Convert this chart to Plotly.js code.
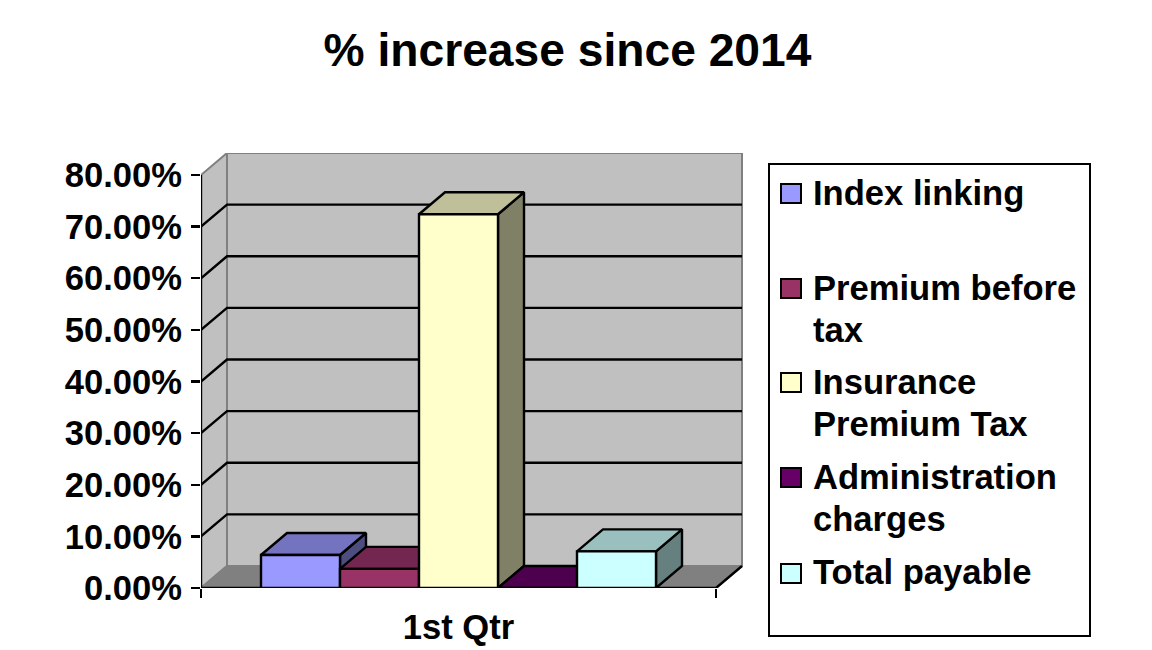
<!DOCTYPE html>
<html>
<head>
<meta charset="utf-8">
<script src="https://cdn.plot.ly/plotly-3.0.1.min.js"></script>
<style>html,body{margin:0;padding:0;background:#fff}#chart{width:1152px;height:650px}</style>
</head>
<body>
<div id="chart"></div>
<script>
// ---- data ----
const titleText = "% increase since 2014";
const category = "1st Qtr";
const seriesNames = ["Index linking", "Premium before tax", "Insurance Premium Tax", "Administration charges", "Total payable"];
const legendLines = [["Index linking"], ["Premium before", "tax"], ["Insurance", "Premium Tax"], ["Administration", "charges"], ["Total payable"]];
const seriesValues = [6.4, 3.7, 72.4, 0, 7.1];
const yTicks = [0, 10, 20, 30, 40, 50, 60, 70, 80];
const yTickLabels = ["0.00%", "10.00%", "20.00%", "30.00%", "40.00%", "50.00%", "60.00%", "70.00%", "80.00%"];
const frontColors = ["#9999ff", "#993366", "#ffffcc", "#660066", "#ccffff"];
const topColors = ["#7373bf", "#732650", "#bfbf99", "#4d004d", "#99bfbf"];
const sideColors = ["#4d4d80", "#4d1a33", "#808066", "#330033", "#668080"];

// ---- geometry ----
const L = 201, R = 743, T = 153, B = 588;        // plot area in pixels
const pxPerCat = 515, pxPerPct = 413 / 80;
const xMax = (R - L) / pxPerCat, yMax = (B - T) / pxPerPct;
const dx = 26 / pxPerCat, dy = 22 / pxPerPct;    // oblique depth in axis units
const barGap = 0.233;
const barW = (1 - barGap) / seriesValues.length;
const font = { family: "Liberation Sans, Arial, sans-serif", size: 34.6, color: "#000", weight: 700 };
const px = x => (x - L) / (R - L), py = y => (B - y) / (B - T);

function poly(xs, ys, fill, lineColor, width) {
  return { type: "scatter", mode: "lines", x: xs, y: ys, xaxis: "x", yaxis: "y",
    fill: fill ? "toself" : "none", fillcolor: fill || undefined,
    line: { color: lineColor, width: width === undefined ? 2.4 : width },
    showlegend: false, hoverinfo: "skip", cliponaxis: false };
}

const traces = [];
// walls and floor
traces.push(poly([dx, 1 + dx, 1 + dx, dx, dx], [dy, dy, 80 + dy, 80 + dy, dy], "#c0c0c0", "#808080", 2));
traces.push(poly([0, dx, dx, 0, 0], [0, dy, 80 + dy, 80, 0], "#c0c0c0", "#808080", 2));
traces.push(poly([0, 1, 1 + dx, dx, 0], [0, 0, dy, dy, 0], "#808080", "#808080", 2));
// gridlines
yTicks.filter(v => v > 0 && v < 80).forEach(v => {
  traces.push(poly([0, dx, 1 + dx], [v, v + dy, v + dy], null, "#000"));
});
// front axis lines
traces.push(poly([0, 0], [0, 80], null, "#000"));
traces.push(poly([0, 1, 1 + dx], [0, 0, dy], null, "#000"));
// side and top faces, left to right
seriesValues.forEach((v, i) => {
  const x0 = 0.5 - (1 - barGap) / 2 + i * barW, x1 = x0 + barW;
  traces.push(poly([x1, x1 + dx, x1 + dx, x1, x1], [0, dy, v + dy, v, 0], sideColors[i], "#000"));
  traces.push(poly([x0, x1, x1 + dx, x0 + dx, x0], [v, v, v + dy, v + dy, v], topColors[i], "#000"));
});
// front faces: real grouped bars on the overlay axes
seriesValues.forEach((v, i) => {
  traces.push({ type: "bar", name: seriesNames[i], x: [0.5], y: [v], xaxis: "x2", yaxis: "y2",
    marker: { color: frontColors[i], line: { color: "#000", width: 2.4 } },
    showlegend: false, cliponaxis: false, hoverinfo: "skip" });
});

// legend
const swatchTop = [184, 279, 373, 468, 564];
const lineCenters = [[193], [288, 330], [382, 424], [477, 519], [572]];
const shapes = [{ type: "rect", xref: "paper", yref: "paper", x0: px(769), x1: px(1090), y0: py(164), y1: py(636),
  line: { color: "#000", width: 2 }, fillcolor: "#fff", layer: "above" }];
const annotations = [];
seriesNames.forEach((n, i) => {
  shapes.push({ type: "rect", xref: "paper", yref: "paper", x0: px(781), x1: px(801), y0: py(swatchTop[i]), y1: py(swatchTop[i] + 19),
    line: { color: "#000", width: 2 }, fillcolor: frontColors[i], layer: "above" });
  legendLines[i].forEach((t, j) => {
    annotations.push({ xref: "paper", yref: "paper", x: px(813), y: py(lineCenters[i][j]), xanchor: "left", yanchor: "middle",
      text: t, showarrow: false, font: font, borderpad: 0, xshift: -1 });
  });
});

const layout = {
  width: 1152, height: 650, autosize: false,
  paper_bgcolor: "#fff", plot_bgcolor: "rgba(0,0,0,0)",
  margin: { l: L, r: 1152 - R, t: T, b: 650 - B, pad: 0 },
  title: { text: titleText, x: 567.5 / 1152, xref: "container", xanchor: "center", y: 1 - 50 / 650, yref: "container", yanchor: "middle",
    font: { family: font.family, size: 46.2, color: "#000", weight: 700 } },
  barmode: "group", bargap: barGap, bargroupgap: 0, showlegend: false,
  xaxis: { range: [0, xMax], tickvals: [0, 1], ticktext: ["", ""], ticks: "outside", ticklen: 9, tickwidth: 2.4, tickcolor: "#000",
    showgrid: false, zeroline: false, showline: false, tickfont: font },
  yaxis: { range: [0, yMax], tickvals: yTicks, ticktext: yTickLabels, ticks: "outside", ticklen: 9, tickwidth: 2.4, tickcolor: "#000",
    showgrid: false, zeroline: false, showline: false, tickfont: font, ticklabelstandoff: 2 },
  xaxis2: { overlaying: "x", anchor: "y2", side: "bottom", range: [0, xMax], tickvals: [0.5], ticktext: [category], ticks: "",
    showgrid: false, zeroline: false, showline: false, tickfont: font, ticklabelstandoff: 15 },
  yaxis2: { overlaying: "y", anchor: "x2", range: [0, yMax], showticklabels: false, ticks: "",
    showgrid: false, zeroline: false, showline: false },
  shapes: shapes, annotations: annotations
};
Plotly.newPlot("chart", traces, layout, { displayModeBar: false, staticPlot: true });
</script>
</body>
</html>
